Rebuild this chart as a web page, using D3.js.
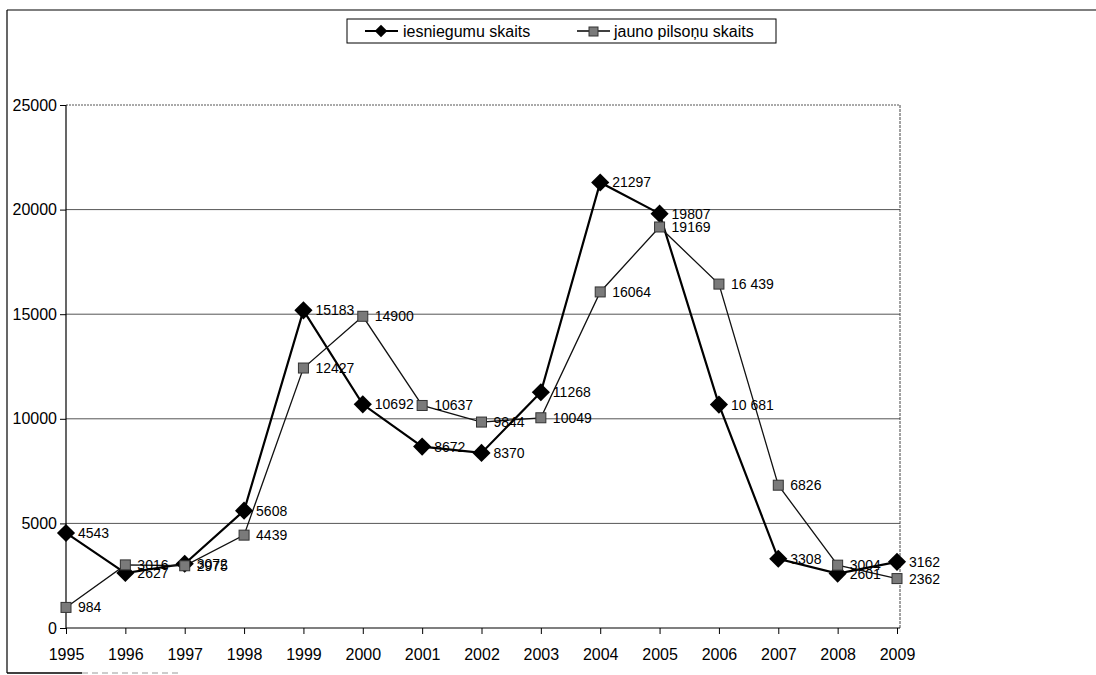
<!DOCTYPE html>
<html><head><meta charset="utf-8">
<script src="https://cdn.jsdelivr.net/npm/d3@7"></script>
<style>body{margin:0;background:#fff}svg{display:block}text{font-family:"Liberation Sans",Arial,sans-serif}</style>
</head><body><svg id="c" width="1096" height="675"></svg>
<script>
const years = ["1995","1996","1997","1998","1999","2000","2001","2002","2003","2004","2005","2006","2007","2008","2009"];
const iesniegumu = [4543,2627,3072,5608,15183,10692,8672,8370,11268,21297,19807,10681,3308,2601,3162];
const iesniegumuLabels = ["4543","2627","3072","5608","15183","10692","8672","8370","11268","21297","19807","10 681","3308","2601","3162"];
const jauno = [984,3016,2975,4439,12427,14900,10637,9844,10049,16064,19169,16439,6826,3004,2362];
const jaunoLabels = ["984","3016","2975","4439","12427","14900","10637","9844","10049","16064","19169","16 439","6826","3004","2362"];
const yTicks = [0,5000,10000,15000,20000,25000];
const seriesNames = ["iesniegumu skaits","jauno pilsoņu skaits"];

const svg = d3.select("#c");
const x = d3.scalePoint().domain(years).range([66,897]);
const y = d3.scaleLinear().domain([0,25000]).range([628,105]);

// outer border (scan)
svg.append("line").attr("x1",7).attr("x2",7).attr("y1",10).attr("y2",673).attr("stroke","#000").attr("stroke-width",1.2);
svg.append("line").attr("x1",7).attr("x2",1096).attr("y1",10).attr("y2",10).attr("stroke","#000").attr("stroke-width",1.2);
svg.append("line").attr("x1",7).attr("x2",82).attr("y1",673).attr("y2",673).attr("stroke","#000").attr("stroke-width",1.5);
svg.append("line").attr("x1",82).attr("x2",178).attr("y1",673).attr("y2",673).attr("stroke","#999").attr("stroke-width",1).attr("stroke-dasharray","6,4");

// gridlines
svg.append("g").selectAll("line").data(yTicks.filter(d=>d>0)).join("line")
  .attr("x1",66).attr("x2",900).attr("y1",d=>y(d)).attr("y2",d=>y(d))
  .attr("stroke","#555").attr("stroke-width",1)
  .attr("stroke-dasharray",d=>d===25000?"2,1":null);
svg.append("line").attr("x1",900).attr("x2",900).attr("y1",105).attr("y2",628).attr("stroke","#444").attr("stroke-dasharray","3,1");

// axes
const yAxis = d3.axisLeft(y).tickValues(yTicks).tickSize(6).tickPadding(3).tickFormat(d3.format("d"));
const gy = svg.append("g").attr("transform","translate(66,0)").call(yAxis);
gy.selectAll("text").attr("font-size",16).attr("fill","#000");
gy.selectAll("path,line").attr("stroke","#000");
gy.select(".domain").remove();
svg.append("line").attr("x1",66).attr("x2",66).attr("y1",105).attr("y2",628).attr("stroke","#000").attr("stroke-width",1.2);

const xAxis = d3.axisBottom(x).tickSize(6).tickPadding(15);
const gx = svg.append("g").attr("transform","translate(0,628)").call(xAxis);
gx.selectAll("text").attr("font-size",16).attr("fill","#000");
gx.selectAll("line").attr("stroke","#000");
gx.select(".domain").attr("d","M66,0H900").attr("stroke","#000").attr("stroke-width",1.2);

const line = d3.line().x((d,i)=>x(years[i])).y(d=>y(d));

svg.append("path").datum(iesniegumu).attr("d",line).attr("fill","none").attr("stroke","#000").attr("stroke-width",2.2);
svg.append("path").datum(jauno).attr("d",line).attr("fill","none").attr("stroke","#111").attr("stroke-width",1.3);

const diamond = d3.symbol().type(d3.symbolDiamond2).size(210);
svg.append("g").selectAll("path").data(iesniegumu).join("path")
  .attr("d",diamond).attr("transform",(d,i)=>`translate(${x(years[i])},${y(d)})`).attr("fill","#000");

svg.append("g").selectAll("text").data(iesniegumu).join("text")
  .attr("x",(d,i)=>x(years[i])+12).attr("y",d=>y(d)+5)
  .attr("font-size",14).text((d,i)=>iesniegumuLabels[i]);

svg.append("g").selectAll("rect").data(jauno).join("rect")
  .attr("x",(d,i)=>x(years[i])-5).attr("y",d=>y(d)-5).attr("width",10).attr("height",10)
  .attr("fill","#7a7a7a").attr("stroke","#333").attr("stroke-width",1);

svg.append("g").selectAll("text").data(jauno).join("text")
  .attr("x",(d,i)=>x(years[i])+12).attr("y",d=>y(d)+5)
  .attr("font-size",14).text((d,i)=>jaunoLabels[i]);

// legend
const lg = svg.append("g");
lg.append("rect").attr("x",347).attr("y",19).attr("width",429).attr("height",24).attr("fill","#fff").attr("stroke","#000").attr("stroke-width",1);
lg.append("line").attr("x1",365).attr("x2",398).attr("y1",31).attr("y2",31).attr("stroke","#000").attr("stroke-width",2.2);
lg.append("path").attr("d",d3.symbol().type(d3.symbolDiamond2).size(100)).attr("transform","translate(381,31)").attr("fill","#000");
lg.append("text").attr("x",403).attr("y",37).attr("font-size",16).text(seriesNames[0]);
lg.append("line").attr("x1",577).attr("x2",610).attr("y1",31).attr("y2",31).attr("stroke","#000").attr("stroke-width",1.3);
lg.append("rect").attr("x",589).attr("y",27).attr("width",9).attr("height",9).attr("fill","#7a7a7a").attr("stroke","#333");
lg.append("text").attr("x",614).attr("y",37).attr("font-size",16).text(seriesNames[1]);
</script></body></html>
